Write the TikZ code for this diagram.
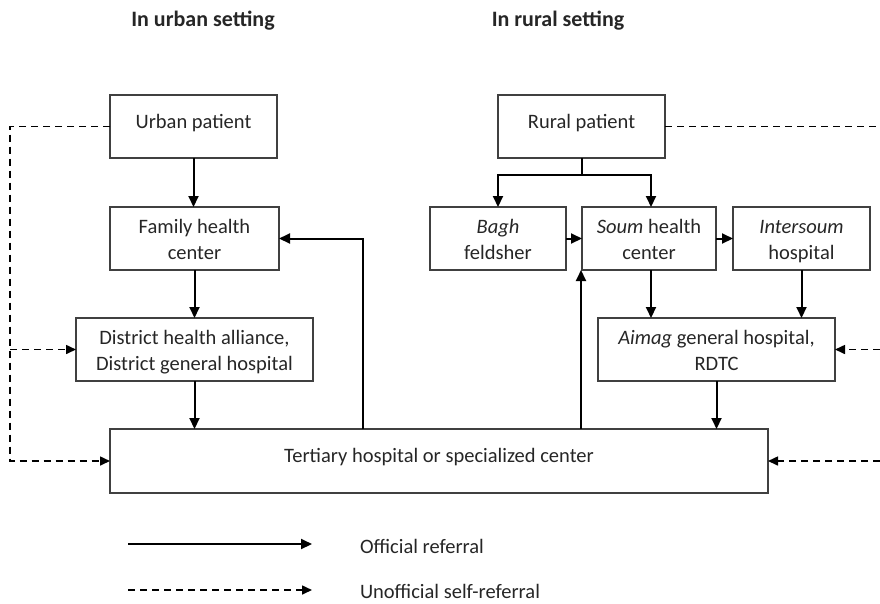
\documentclass[tikz,border=0pt]{standalone}
\usepackage{fontspec}
\setmainfont{Carlito}
\usetikzlibrary{arrows.meta}

\begin{document}
\begin{tikzpicture}[x=1pt,y=-1pt,
  every node/.style={inner sep=0pt, outer sep=0pt, align=center, text=black!85, font=\fontsize{20.5}{26}\selectfont},
  box/.style={draw=black!75, line width=1.1pt, minimum height=63pt, text height=41pt, text depth=0pt},
  oneline/.style={draw=black!75, line width=1.1pt, minimum height=63pt, text height=11pt, text depth=7pt},
  official/.style={line width=2pt, -{Triangle[length=11pt,width=10pt]}},
  selfref/.style={line width=1.6pt, dash pattern=on 7pt off 5pt, -{Triangle[length=10pt,width=9pt]}}]
\useasboundingbox (0,0) rectangle (880,603);

\node[font=\bfseries\fontsize{22}{24}\selectfont] (urbanhead) at (203,21) {In urban setting};
\node[font=\bfseries\fontsize{22}{24}\selectfont] (ruralhead) at (558,21) {In rural setting};

% urban side
\node[oneline, minimum width=167pt] (urban) at (193.5,126.5) {Urban patient};
\node[box, minimum width=169pt] (family) at (194.5,238.5) {Family health\\center};
\node[box, minimum width=237pt] (district) at (194.5,349.5) {District health alliance,\\District general hospital};
\node[oneline, minimum width=658pt, minimum height=64pt, text depth=8pt] (tertiary) at (439,461) {Tertiary hospital or specialized center};

% rural side
\node[oneline, minimum width=167pt] (rural) at (581.5,126.5) {Rural patient};
\node[box, minimum width=136pt] (bagh) at (498,238.5) {\textit{Bagh}\\feldsher};
\node[box, minimum width=134pt] (soum) at (649,238.5) {\textit{Soum} health\\center};
\node[box, minimum width=137pt] (intersoum) at (801.5,238.5) {\textit{Intersoum}\\hospital};
\node[box, minimum width=237pt] (aimag) at (716.5,349.5) {\textit{Aimag} general hospital,\\RDTC};

% official referrals
\draw[official] (urban.south) -- (urban.south |- family.north);
\draw[official] (family.south) -- (family.south |- district.north);
\draw[official] (district.south) -- (district.south |- tertiary.north);
\draw[official] ([xshift=253pt]tertiary.north west) |- (family.east);

\coordinate (fork) at ([yshift=-17pt]rural.south);
\coordinate (soumin) at ([xshift=-1pt]soum.south west);
\draw[line width=2pt] (rural.south) -- (fork);
\draw[official] (fork) -| (bagh.north);
\draw[official] (fork) -| ([xshift=2pt]soum.north);
\draw[official] (bagh.east) -- (soum.west);
\draw[official] (soum.east) -- (intersoum.west);
\draw[official] ([xshift=2pt]soum.south) -- ([xshift=2pt]soum.south |- aimag.north);
\draw[official] (intersoum.south) -- (intersoum.south |- aimag.north);
\draw[official] (aimag.south) -- (aimag.south |- tertiary.north);
\draw[official] (tertiary.north -| soumin) -- (soumin);

% self-referrals
\coordinate (lbot) at (10,461);
\coordinate (rtop) at (880,126.5);
\draw[selfref] (urban.west) -| (lbot) -- (tertiary.west);
\draw[selfref] (lbot |- district.west) -- (district.west);
\draw[selfref, -] (rural.east) -- (rtop);
\draw[selfref] (rtop |- aimag.east) -- (aimag.east);
\draw[selfref] (rtop |- tertiary.east) -- (tertiary.east);

% legend
\coordinate (offa) at (128,544);
\coordinate (offb) at (312,544);
\coordinate (unoffa) at (128,590);
\coordinate (unoffb) at (312,590);
\draw[official] (offa) -- (offb);
\draw[selfref] (unoffa) -- (unoffb);
\node[anchor=west] (offtext) at (360,546) {Official referral};
\node[anchor=west] (unofftext) at (360,591) {Unofficial self-referral};
\end{tikzpicture}
\end{document}
